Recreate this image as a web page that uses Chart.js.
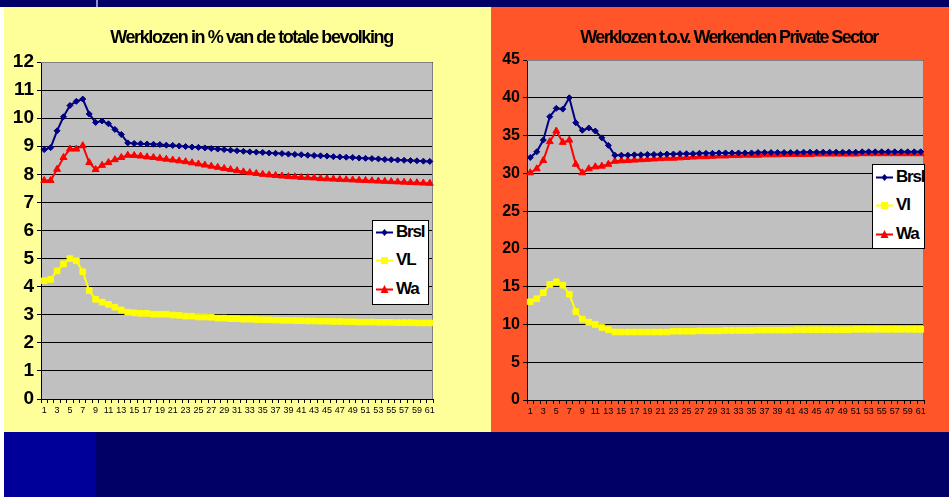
<!DOCTYPE html>
<html>
<head>
<meta charset="utf-8">
<script src="https://cdn.jsdelivr.net/npm/chart.js@4"></script>
<style>
  html, body { margin: 0; padding: 0; }
  body { width: 949px; height: 497px; position: relative; overflow: hidden; background: #fff; font-family: "Liberation Sans", Arial, sans-serif; }
  .strip { position: absolute; left: 0; top: 0; width: 949px; height: 7px; background: #000066; }
  .strip-mark { position: absolute; left: 96px; top: 0; width: 2px; height: 7px; background: #8f8fd0; }
  .foot-a { position: absolute; left: 4px; top: 432px; width: 92px; height: 65px; background: #000099; }
  .foot-b { position: absolute; left: 96px; top: 432px; width: 853px; height: 65px; background: #000066; }
  .panel { position: absolute; top: 7px; height: 425px; }
  .panel canvas { position: absolute; left: 0; top: 0; }
  .title { position: absolute; left: 0; right: 0; text-align: center; font-weight: bold; color: #000; white-space: nowrap; }
  .legend { position: absolute; background: #fff; border: 1px solid #000; box-sizing: border-box; }
  .legend div { position: absolute; left: 3px; height: 20px; display: flex; align-items: center; font-weight: bold; font-size: 17px; letter-spacing: -1.2px; color: #000; }
  .legend svg { margin-right: 2px; }
</style>
</head>
<body>
<div class="strip"></div>
<div class="strip-mark"></div>
<div class="foot-a"></div>
<div class="foot-b"></div>

<div class="panel" id="panelL" style="left:4px; width:487px; background:#ffff99;">
  <canvas id="chartL" width="487" height="425"></canvas>
  <div class="title" style="top:20px; font-size:18px; letter-spacing:-1.4px; padding-left:8px;">Werklozen in % van de totale bevolking</div>
  <div class="legend" id="legendL" style="left:368px; top:213px; width:57px; height:85px;"></div>
</div>

<div class="panel" id="panelR" style="left:491px; width:458px; background:#ff5529;">
  <canvas id="chartR" width="458" height="425"></canvas>
  <div class="title" style="top:20px; font-size:18px; letter-spacing:-1.6px; padding-left:18px;">Werklozen t.o.v. Werkenden Private Sector</div>
  <div class="legend" id="legendR" style="left:381px; top:157px; width:53px; height:85px;"></div>
</div>

<script>
// categories 1..61
const periods = ['1','2','3','4','5','6','7','8','9','10','11','12','13','14','15','16','17','18','19','20',
  '21','22','23','24','25','26','27','28','29','30','31','32','33','34','35','36','37','38','39','40',
  '41','42','43','44','45','46','47','48','49','50','51','52','53','54','55','56','57','58','59','60','61'];

// left chart: % of total population
const brslPct = [8.88, 8.95, 9.55, 10.05, 10.45, 10.6, 10.68, 10.15, 9.85, 9.9,
  9.8, 9.6, 9.42, 9.12, 9.1, 9.09, 9.08, 9.07, 9.06, 9.04,
  9.03, 9.01, 8.99, 8.97, 8.96, 8.94, 8.92, 8.9, 8.88, 8.86,
  8.84, 8.82, 8.8, 8.79, 8.78, 8.76, 8.75, 8.74, 8.72, 8.71,
  8.7, 8.68, 8.67, 8.66, 8.65, 8.63, 8.62, 8.61, 8.6, 8.58,
  8.57, 8.56, 8.55, 8.53, 8.52, 8.51, 8.5, 8.49, 8.48, 8.47, 8.46];
const vlPct = [4.21, 4.26, 4.56, 4.81, 5.0, 4.92, 4.53, 3.86, 3.55, 3.45,
  3.37, 3.27, 3.17, 3.09, 3.07, 3.05, 3.05, 3.02, 3.02, 3.02,
  2.99, 2.98, 2.95, 2.95, 2.92, 2.92, 2.91, 2.88, 2.88, 2.86,
  2.86, 2.84, 2.84, 2.83, 2.82, 2.82, 2.81, 2.8, 2.8, 2.79,
  2.79, 2.78, 2.78, 2.77, 2.77, 2.76, 2.76, 2.75, 2.75, 2.74,
  2.74, 2.74, 2.73, 2.73, 2.73, 2.72, 2.72, 2.72, 2.71, 2.71, 2.71];
const waPct = [7.78, 7.78, 8.18, 8.6, 8.9, 8.9, 9.02, 8.42, 8.17, 8.32,
  8.42, 8.52, 8.6, 8.68, 8.67, 8.65, 8.62, 8.6, 8.57, 8.54,
  8.51, 8.48, 8.45, 8.41, 8.37, 8.33, 8.29, 8.25, 8.21, 8.17,
  8.13, 8.09, 8.06, 8.03, 8.0, 7.98, 7.96, 7.94, 7.92, 7.91,
  7.89, 7.88, 7.87, 7.85, 7.84, 7.83, 7.82, 7.81, 7.8, 7.79,
  7.78, 7.77, 7.76, 7.75, 7.74, 7.73, 7.72, 7.71, 7.7, 7.69, 7.68];

// right chart: vs. employed in private sector
const brslPriv = [32.1, 32.85, 34.4, 37.5, 38.6, 38.5, 40.0, 36.7, 35.7, 36.0,
  35.6, 34.7, 33.7, 32.4, 32.4, 32.4, 32.45, 32.45, 32.5, 32.5,
  32.5, 32.55, 32.55, 32.6, 32.6, 32.6, 32.65, 32.65, 32.65, 32.7,
  32.7, 32.7, 32.7, 32.7, 32.7, 32.75, 32.75, 32.75, 32.75, 32.75,
  32.75, 32.75, 32.8, 32.8, 32.8, 32.8, 32.8, 32.8, 32.8, 32.8,
  32.8, 32.85, 32.85, 32.85, 32.85, 32.85, 32.85, 32.85, 32.85, 32.85, 32.85];
const vlPriv = [13.0, 13.4, 14.2, 15.3, 15.65, 15.2, 14.0, 11.7, 10.7, 10.3,
  10.0, 9.6, 9.3, 9.0, 9.0, 9.0, 9.0, 9.0, 9.0, 9.0,
  9.0, 9.0, 9.1, 9.1, 9.1, 9.1, 9.15, 9.15, 9.15, 9.15,
  9.2, 9.2, 9.2, 9.2, 9.2, 9.25, 9.25, 9.25, 9.25, 9.25,
  9.25, 9.3, 9.3, 9.3, 9.3, 9.3, 9.3, 9.3, 9.3, 9.3,
  9.35, 9.35, 9.35, 9.35, 9.35, 9.35, 9.35, 9.35, 9.35, 9.35, 9.35];
const waPriv = [30.07, 30.6, 31.7, 34.2, 35.6, 34.1, 34.4, 31.2, 30.07, 30.6,
  30.86, 30.95, 31.2, 31.6, 31.65, 31.7, 31.75, 31.8, 31.85, 31.9,
  31.95, 32.0, 32.0, 32.05, 32.1, 32.15, 32.2, 32.2, 32.25, 32.3,
  32.3, 32.35, 32.35, 32.4, 32.4, 32.4, 32.45, 32.45, 32.45, 32.5,
  32.5, 32.5, 32.5, 32.5, 32.55, 32.55, 32.55, 32.55, 32.55, 32.55,
  32.55, 32.6, 32.6, 32.6, 32.6, 32.6, 32.6, 32.6, 32.6, 32.6, 32.6];

const yTicksLeft = { min: 0, max: 12, step: 1 };
const yTicksRight = { min: 0, max: 45, step: 5 };

// series styling (Excel-ish markers)
const seriesStyle = {
  brsl: { color: '#000080', pointStyle: 'rectRot', radius: 3 },
  vl:   { color: '#ffff00', pointStyle: 'rect', radius: 4 },
  wa:   { color: '#ff0000', pointStyle: 'triangle', radius: 4 }
};

function makeDataset(label, data, style) {
  return {
    label: label,
    data: data,
    borderColor: style.color,
    backgroundColor: style.color,
    borderWidth: 2,
    pointStyle: style.pointStyle,
    pointRadius: style.radius,
    pointBorderWidth: 1,
    pointBorderColor: style.color,
    pointBackgroundColor: style.color,
    tension: 0
  };
}

// grey plot area with a grey frame, like the Excel plot area
const plotBg = {
  id: 'plotBg',
  beforeDraw(chart) {
    const { ctx, chartArea: a } = chart;
    ctx.save();
    ctx.fillStyle = '#c0c0c0';
    ctx.fillRect(a.left, a.top, a.right - a.left, a.bottom - a.top);
    ctx.restore();
  },
  beforeDatasetsDraw(chart) {
    const { ctx, chartArea: a } = chart;
    ctx.save();
    ctx.strokeStyle = '#808080';
    ctx.lineWidth = 1;
    ctx.beginPath();
    ctx.moveTo(a.left, a.top + 0.5);
    ctx.lineTo(a.right - 0.5, a.top + 0.5);
    ctx.lineTo(a.right - 0.5, a.bottom);
    ctx.stroke();
    ctx.restore();
  }
};

function makeChart(id, datasets, yRange, pad, yWidth, xHeight, yFont) {
  return new Chart(document.getElementById(id), {
    type: 'line',
    data: { labels: periods, datasets: datasets },
    options: {
      responsive: false,
      animation: false,
      layout: { padding: pad },
      plugins: {
        legend: { display: false },
        title: { display: false },
        tooltip: { enabled: false }
      },
      scales: {
        x: {
          offset: true,
          grid: { offset: true, drawOnChartArea: false, drawTicks: true, tickLength: 4, color: '#000' },
          border: { color: '#000', width: 1 },
          ticks: {
            autoSkip: false,
            maxRotation: 0,
            padding: 2,
            color: '#000',
            font: { family: '"Liberation Sans Narrow", "Liberation Sans", Arial', size: 9 },
            callback: function(value, index) {
              return index % 2 === 0 ? this.getLabelForValue(value) : '';
            }
          },
          afterFit: s => { s.height = xHeight; }
        },
        y: {
          min: yRange.min,
          max: yRange.max,
          grid: { color: '#000', lineWidth: 1, tickLength: 4 },
          border: { color: '#000', width: 1 },
          ticks: {
            stepSize: yRange.step,
            padding: 3,
            color: '#000',
            font: yFont
          },
          afterFit: s => { s.width = yWidth; }
        }
      }
    },
    plugins: [plotBg]
  });
}

function buildLegend(elId, chart) {
  const box = document.getElementById(elId);
  const rowTops = elId === 'legendL' ? [11, 39, 68] : [12, 40, 69];
  chart.data.datasets.forEach((ds, i) => {
    const row = document.createElement('div');
    row.style.top = (rowTops[i] - 10) + 'px';
    const c = ds.borderColor;
    let mark;
    if (ds.pointStyle === 'rect') {
      mark = `<rect x="5" y="2" width="7" height="7" fill="${c}"/>`;
    } else if (ds.pointStyle === 'triangle') {
      mark = `<polygon points="8.5,1 12.5,9 4.5,9" fill="${c}"/>`;
    } else {
      mark = `<polygon points="8.5,2 11.5,5.5 8.5,9 5.5,5.5" fill="${c}"/>`;
    }
    row.innerHTML = `<svg width="18" height="11"><line x1="0" y1="5.5" x2="17" y2="5.5" stroke="${c}" stroke-width="2"/>${mark}</svg><span>${ds.label}</span>`;
    box.appendChild(row);
  });
}

const chartL = makeChart('chartL', [
  makeDataset('Brsl', brslPct, seriesStyle.brsl),
  makeDataset('VL', vlPct, seriesStyle.vl),
  makeDataset('Wa', waPct, seriesStyle.wa)
], yTicksLeft, { top: 55, right: 58, left: 0, bottom: 0 }, 37, 33,
  { family: '"Liberation Sans", Arial', size: 19, weight: 'bold' });

const chartR = makeChart('chartR', [
  makeDataset('Brsl', brslPriv, seriesStyle.brsl),
  makeDataset('Vl', vlPriv, seriesStyle.vl),
  makeDataset('Wa', waPriv, seriesStyle.wa)
], yTicksRight, { top: 53, right: 25, left: 0, bottom: 0 }, 36, 32,
  { family: '"Liberation Sans", Arial', size: 16, weight: 'bold' });

buildLegend('legendL', chartL);
buildLegend('legendR', chartR);
</script>
</body>
</html>
